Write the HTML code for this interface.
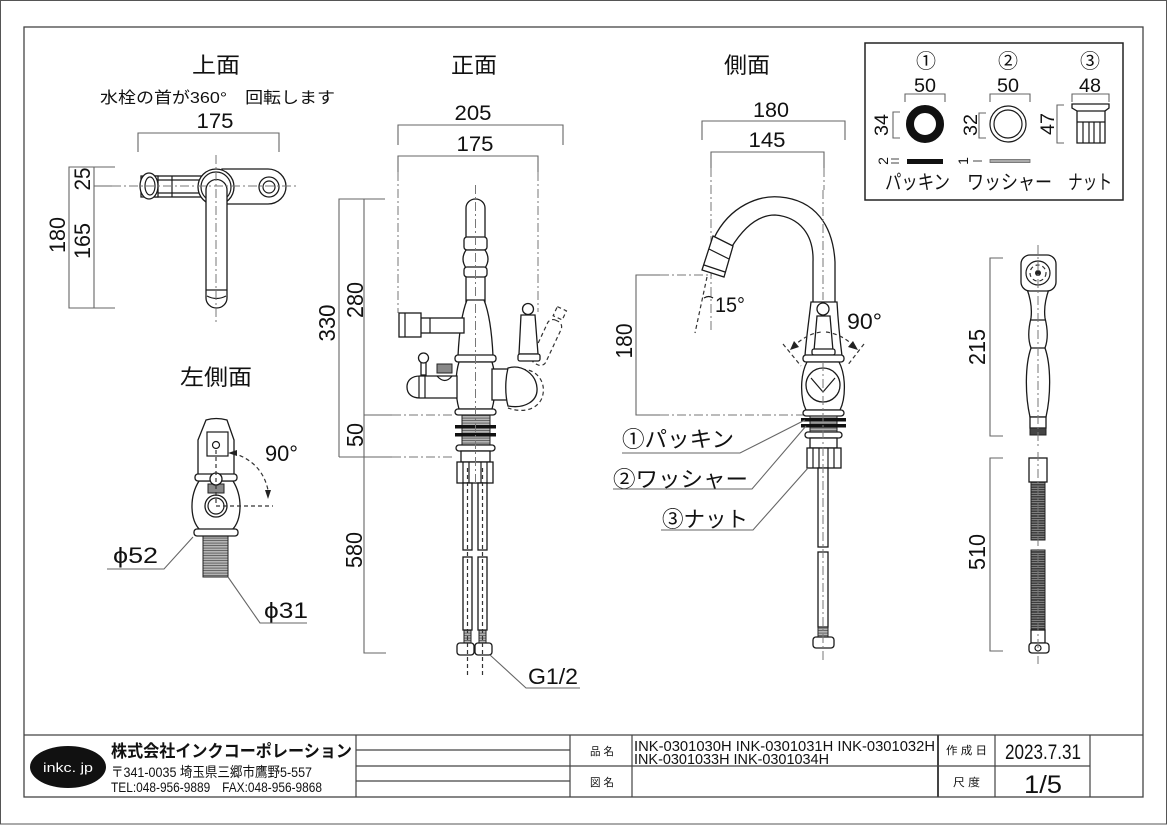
<!DOCTYPE html>
<html><head><meta charset="utf-8">
<style>
html,body{margin:0;padding:0;background:#fff;}
svg{display:block}
text{font-family:"Liberation Sans","Noto Sans CJK JP",sans-serif;fill:#111}
.o{fill:#fff;stroke:#1a1a1a;stroke-width:1.3}
.n{fill:none;stroke:#1a1a1a;stroke-width:1.2}
.d{fill:none;stroke:#666;stroke-width:1.1}
.c{fill:none;stroke:#777;stroke-width:1;stroke-dasharray:9 3 2 3}
.h{fill:none;stroke:#333;stroke-width:1.2;stroke-dasharray:4 3}
.g{fill:none;stroke:#444;stroke-width:1}
</style></head><body>
<svg width="1167" height="825" viewBox="0 0 1167 825" xmlns="http://www.w3.org/2000/svg">
<defs>
<pattern id="thr" width="4" height="2.5" patternUnits="userSpaceOnUse"><rect width="4" height="2.5" fill="#b5b5b5"/><line x1="0" y1="0.6" x2="4" y2="0.6" stroke="#555" stroke-width="0.8"/></pattern>
<pattern id="cor" width="4" height="2.4" patternUnits="userSpaceOnUse"><rect width="4" height="2.4" fill="#3a3a3a"/><line x1="0" y1="1.2" x2="4" y2="1.2" stroke="#bbb" stroke-width="0.6"/></pattern>
</defs>
<rect x="0" y="0" width="1167" height="825" fill="#fff"/>
<rect x="0.5" y="0.5" width="1166" height="823.5" fill="none" stroke="#555" stroke-width="1"/>
<rect x="24" y="27" width="1119" height="770" fill="none" stroke="#444" stroke-width="1.3"/>

<!-- ============ TOP VIEW 上面 ============ -->
<text x="216" y="73" font-size="22" text-anchor="middle" textLength="48" lengthAdjust="spacingAndGlyphs">上面</text>
<text x="100" y="103" font-size="16" textLength="235" lengthAdjust="spacingAndGlyphs">水栓の首が360°　回転します</text>
<text x="215" y="128" font-size="21" text-anchor="middle" textLength="37" lengthAdjust="spacingAndGlyphs">175</text>
<path class="d" d="M138 152V133H279V152"/>
<path class="d" d="M115 167H69V308H115M94 167V308M94 186H112"/>
<text transform="translate(65,235) rotate(-90)" font-size="22" text-anchor="middle" textLength="36" lengthAdjust="spacingAndGlyphs">180</text>
<text transform="translate(90,179) rotate(-90)" font-size="22" text-anchor="middle" textLength="23" lengthAdjust="spacingAndGlyphs">25</text>
<text transform="translate(90,241) rotate(-90)" font-size="22" text-anchor="middle" textLength="36" lengthAdjust="spacingAndGlyphs">165</text>
<rect class="o" x="155" y="176" width="52" height="21"/>
<path class="n" d="M158 180H205M158 193H205M172 176V197"/>
<path class="o" d="M141 176H158V197H141Z"/>
<ellipse class="o" cx="149" cy="186" rx="9" ry="13"/>
<ellipse class="n" cx="150" cy="186" rx="5" ry="9"/>
<path class="o" d="M222 169H268A18 17.5 0 0 1 268 204H222Z"/>
<circle class="o" cx="269" cy="187" r="10"/><circle class="n" cx="269" cy="187" r="6"/>
<circle class="o" cx="216" cy="187" r="18"/><circle class="n" cx="216" cy="187" r="15"/>
<path class="o" d="M206 190V298A10.5 10 0 0 0 227 298V190A10.5 10.5 0 0 0 206 190Z"/>
<path class="n" d="M206 290H227M207 296Q216.5 301 226 296"/>
<path class="c" d="M112 186H296M216 155V322"/>

<!-- ============ LEFT SIDE 左側面 ============ -->
<text x="216" y="385" font-size="22" text-anchor="middle" textLength="72" lengthAdjust="spacingAndGlyphs">左側面</text>
<path class="o" d="M206 420Q216 417 227 420L234 440V475H198V440Z"/>
<rect class="n" x="207" y="432" width="21" height="24"/>
<circle class="n" cx="216" cy="445" r="3.5"/>
<path class="o" d="M199 481C189 497 190 520 200 530H232C242 520 243 497 233 481Z"/>
<rect class="o" x="195" y="474" width="42" height="7" rx="3"/>
<rect x="208" y="484" width="16" height="9" fill="#888" stroke="#222"/>
<circle class="o" cx="216" cy="479" r="6"/>
<circle class="o" cx="216" cy="506" r="11"/><circle class="n" cx="216" cy="506" r="8"/>
<rect x="203" y="535" width="25" height="42" fill="url(#thr)" stroke="#222"/>
<rect class="o" x="194" y="529" width="44" height="7" rx="3"/>
<path class="h" d="M216 450V506H273"/>
<path class="h" d="M233 453Q262 462 268 490"/>
<polygon points="228,453 237,450 237,456" fill="#222"/>
<polygon points="268,499 265,490 271,490" fill="#222"/>
<text x="265" y="461" font-size="22" textLength="33" lengthAdjust="spacingAndGlyphs">90°</text>
<path class="d" d="M193 537L164 569H107"/>
<path class="d" d="M228 577L260 623H307"/>
<text x="113" y="563" font-size="22" textLength="45" lengthAdjust="spacingAndGlyphs">ϕ52</text>
<text x="264" y="618" font-size="22" textLength="44" lengthAdjust="spacingAndGlyphs">ϕ31</text>

<!-- ============ FRONT 正面 ============ -->
<text x="474" y="73" font-size="22" text-anchor="middle" textLength="46" lengthAdjust="spacingAndGlyphs">正面</text>
<text x="473" y="120" font-size="21" text-anchor="middle" textLength="37" lengthAdjust="spacingAndGlyphs">205</text>
<text x="475" y="151" font-size="21" text-anchor="middle" textLength="37" lengthAdjust="spacingAndGlyphs">175</text>
<path class="d" d="M398 145V125H563V145"/>
<path class="d" d="M398 172V156H538V172"/>
<path class="c" d="M398 172V313M538 172V312"/>
<path class="d" d="M385 199H339V457M364 199V653H386M364 415H392M339 457H392"/>
<path class="c" d="M392 415H455M392 457H455"/>
<text transform="translate(335,323) rotate(-90)" font-size="23" text-anchor="middle" textLength="37" lengthAdjust="spacingAndGlyphs">330</text>
<text transform="translate(363,300) rotate(-90)" font-size="23" text-anchor="middle" textLength="36" lengthAdjust="spacingAndGlyphs">280</text>
<text transform="translate(363,435) rotate(-90)" font-size="23" text-anchor="middle" textLength="24" lengthAdjust="spacingAndGlyphs">50</text>
<text transform="translate(362,550) rotate(-90)" font-size="23" text-anchor="middle" textLength="36" lengthAdjust="spacingAndGlyphs">580</text>
<!-- spout -->
<path class="o" d="M466 302V208A9.5 9 0 0 1 485 208V302Z"/>
<rect class="o" x="464" y="237" width="23" height="13" rx="3"/>
<path class="o" d="M466 250C462 256 462 262 466 268H485C489 262 489 256 485 250Z"/>
<rect class="o" x="464" y="267" width="23" height="10" rx="3"/>
<path class="o" d="M467 300H484C490 315 492 335 493 356H458C459 335 461 315 467 300Z"/>
<!-- shower arm -->
<rect class="o" x="420" y="318" width="44" height="15"/>
<path class="n" d="M430 318V333"/>
<rect class="o" x="399" y="313" width="22" height="24"/>
<path class="n" d="M405 313V337"/>
<rect class="o" x="455" y="355" width="41" height="7" rx="3"/>
<path class="o" d="M459 362C455 375 455 395 459 409H492C496 395 496 375 492 362Z"/>
<!-- left valve -->
<path class="o" d="M457 376H420C412 376 407 380 407 387C407 394 412 398 420 398H457Z"/>
<path class="n" d="M419 376V398M425 376V398"/>
<path class="n" d="M437 376Q445 385 452 376"/>
<rect class="o" x="421" y="362" width="5" height="13"/>
<circle class="o" cx="423.5" cy="358" r="5"/>
<rect x="437" y="364" width="15" height="9" fill="#888" stroke="#222"/>
<!-- right handle -->
<rect class="o" x="492" y="369" width="18" height="31"/>
<path class="h" d="M515 371C536 364 549 384 541 400C534 412 519 412 508 408"/>
<g transform="rotate(25 545 345)"><rect class="h" x="538" y="318" width="15" height="48" rx="6"/><rect class="h" x="540" y="305" width="10" height="10"/></g>
<path class="o" d="M508 368C522 364 536 374 537 388C538 401 525 409 508 406C505 395 505 380 508 368Z"/>
<path class="o" d="M521 315H535L538 354H519Z"/>
<rect class="o" x="518" y="354" width="22" height="7" rx="2"/>
<circle class="o" cx="528" cy="309" r="5.5"/>
<!-- base -->
<rect class="o" x="455" y="409" width="41" height="6" rx="3"/>
<rect x="462" y="415" width="28" height="31" fill="url(#thr)" stroke="#222"/>
<rect x="455" y="425" width="41" height="3.5" fill="#111"/>
<rect x="455" y="433" width="41" height="3.5" fill="#111"/>
<rect class="o" x="456" y="445" width="39" height="6" rx="3"/>
<rect class="o" x="461" y="451" width="29" height="11"/>
<rect class="o" x="457" y="462" width="36" height="21"/>
<path class="n" d="M463 462V483M469 462V483M481 462V483M487 462V483"/>
<!-- hoses -->
<rect class="o" x="463" y="483" width="9" height="67"/>
<rect class="o" x="478" y="483" width="9" height="67"/>
<rect class="o" x="463" y="557" width="9" height="73"/>
<rect class="o" x="478" y="557" width="9" height="73"/>
<rect x="464" y="630" width="7" height="13" fill="url(#thr)" stroke="#222"/>
<rect x="479" y="630" width="7" height="13" fill="url(#thr)" stroke="#222"/>
<rect class="o" x="457" y="643" width="17" height="12" rx="3"/>
<rect class="o" x="475" y="643" width="17" height="12" rx="3"/>
<path class="c" d="M475.5 185V483"/>
<path class="h" d="M467.5 468V678M482.5 468V678" stroke="#777" stroke-width="1"/>
<path class="d" d="M490 655L526 688H580"/>
<text x="528" y="684" font-size="22" textLength="50" lengthAdjust="spacingAndGlyphs">G1/2</text>

<!-- ============ SIDE 側面 ============ -->
<text x="747" y="73" font-size="22" text-anchor="middle" textLength="46" lengthAdjust="spacingAndGlyphs">側面</text>
<text x="771" y="117" font-size="21" text-anchor="middle" textLength="36" lengthAdjust="spacingAndGlyphs">180</text>
<text x="767" y="147" font-size="21" text-anchor="middle" textLength="37" lengthAdjust="spacingAndGlyphs">145</text>
<path class="d" d="M702 140V121H845V140"/>
<path class="d" d="M711 168V152H824V168"/>
<path class="c" d="M711 168V330M824 168V190"/>
<path class="d" d="M660 275H636V415H660"/>
<path class="c" d="M660 275H712M660 415H805"/>
<text transform="translate(632,341) rotate(-90)" font-size="23" text-anchor="middle" textLength="35" lengthAdjust="spacingAndGlyphs">180</text>
<!-- gooseneck -->
<path class="o" d="M714 238C730 205 760 195 780 197C815 200 833 225 835 262L835 304L813 304L813 262C814 235 800 217 775 215C760 215 745 225 731 248Z"/>
<polygon class="o" points="713,236 733,246 724,277 702,270"/>
<path class="n" d="M709 249L729 259M704 265L725 272"/>
<path class="h" d="M707 277L695 333" stroke="#666" stroke-width="1"/>
<path class="n" d="M704 298Q709 295 713 298" stroke-width="1"/>
<text x="715" y="312" font-size="21" textLength="30" lengthAdjust="spacingAndGlyphs">15°</text>
<!-- body -->
<path class="o" d="M811 302H837C838 320 840 340 842 356H805C806 340 809 320 811 302Z"/>
<path class="o" d="M817 316H830L833 351H814Z"/>
<rect class="o" x="812" y="349" width="23" height="6" rx="2"/>
<circle class="o" cx="823" cy="309" r="6"/>
<rect class="o" x="803" y="355" width="41" height="7" rx="3"/>
<path class="o" d="M807 362C800 375 800 398 806 410H840C846 398 846 375 839 362Z"/>
<circle class="o" cx="823" cy="385" r="17"/>
<path class="n" d="M811 378L823 392L835 378"/>
<rect class="o" x="803" y="410" width="41" height="6" rx="3"/>
<rect x="810" y="416" width="27" height="17" fill="url(#thr)" stroke="#222"/>
<rect x="801" y="418" width="45" height="3.5" fill="#111"/>
<rect x="801" y="424" width="45" height="3.5" fill="#111"/>
<rect class="o" x="805" y="432" width="37" height="6" rx="3"/>
<rect class="o" x="810" y="438" width="27" height="10"/>
<rect class="o" x="807" y="448" width="34" height="20"/>
<path class="n" d="M813 448V468M819 448V468M828 448V468M834 448V468"/>
<rect class="o" x="818" y="468" width="10" height="79"/>
<rect class="o" x="818" y="552" width="10" height="75"/>
<rect x="818" y="627" width="10" height="11" fill="url(#thr)" stroke="#222"/>
<rect class="o" x="813" y="637" width="21" height="11" rx="3"/>
<path class="c" d="M823 190V300M823 362V660"/>
<!-- 90 deg -->
<path class="h" d="M783 344L801 366M864 344L847 366"/>
<path class="h" d="M793 347Q806 334 821 332M826 332Q842 334 855 347"/>
<polygon points="790,350 794,341 799,347" fill="#222"/>
<polygon points="858,350 848,347 853,341" fill="#222"/>
<text x="847" y="329" font-size="22" textLength="35" lengthAdjust="spacingAndGlyphs">90°</text>
<!-- labels -->
<text x="622" y="447" font-size="22" textLength="112" lengthAdjust="spacingAndGlyphs">①パッキン</text>
<text x="613" y="487" font-size="22" textLength="135" lengthAdjust="spacingAndGlyphs">②ワッシャー</text>
<text x="662" y="527" font-size="22" textLength="86" lengthAdjust="spacingAndGlyphs">③ナット</text>
<path class="d" d="M622 453H740L805 420"/>
<path class="d" d="M613 489H752L806 426"/>
<path class="d" d="M661 530H753L808 468"/>

<!-- ============ PARTS BOX ============ -->
<rect x="865" y="43" width="258" height="157" fill="none" stroke="#222" stroke-width="1.5"/>
<text x="926" y="68" font-size="20" text-anchor="middle">①</text>
<text x="1008" y="68" font-size="20" text-anchor="middle">②</text>
<text x="1090" y="68" font-size="20" text-anchor="middle">③</text>
<text x="925" y="92" font-size="19" text-anchor="middle" textLength="22" lengthAdjust="spacingAndGlyphs">50</text>
<text x="1008" y="92" font-size="19" text-anchor="middle" textLength="22" lengthAdjust="spacingAndGlyphs">50</text>
<text x="1090" y="92" font-size="19" text-anchor="middle" textLength="22" lengthAdjust="spacingAndGlyphs">48</text>
<path class="d" d="M905 102V94H945V102M990 102V94H1030V102M1072 102V94H1109V102"/>
<path class="d" d="M900 112H893V138H900M986 113H979V138H986M1064 105H1057V143H1064"/>
<text transform="translate(888,125) rotate(-90)" font-size="19" text-anchor="middle" textLength="22" lengthAdjust="spacingAndGlyphs">34</text>
<text transform="translate(977,125) rotate(-90)" font-size="19" text-anchor="middle" textLength="22" lengthAdjust="spacingAndGlyphs">32</text>
<text transform="translate(1054,124) rotate(-90)" font-size="19" text-anchor="middle" textLength="22" lengthAdjust="spacingAndGlyphs">47</text>
<circle cx="925" cy="124" r="15" fill="none" stroke="#111" stroke-width="8"/>
<circle class="n" cx="1008" cy="124" r="18"/><circle class="n" cx="1008" cy="124" r="14"/>
<path class="o" d="M1072 104H1109V108L1105 111V143H1077V111L1072 108Z"/>
<path class="n" d="M1077 111H1105M1077 122H1105M1083 122V143M1089 122V143M1094 122V143M1100 122V143"/>
<text transform="translate(888,161) rotate(-90)" font-size="14" text-anchor="middle">2</text>
<path class="g" d="M891 159H899M891 163H899"/>
<rect x="907" y="159" width="36" height="5" fill="#111"/>
<text transform="translate(968,161) rotate(-90)" font-size="14" text-anchor="middle">1</text>
<path class="g" d="M973 161H982"/>
<rect x="990" y="159.5" width="40" height="3" fill="#aaa" stroke="#666" stroke-width="0.8"/>
<text x="885" y="189" font-size="20" textLength="65" lengthAdjust="spacingAndGlyphs">パッキン</text>
<text x="967" y="189" font-size="20" textLength="85" lengthAdjust="spacingAndGlyphs">ワッシャー</text>
<text x="1068" y="189" font-size="20" textLength="44" lengthAdjust="spacingAndGlyphs">ナット</text>

<!-- ============ HAND SHOWER ============ -->
<path class="d" d="M1003 258H990V436H1003"/>
<text transform="translate(985,347) rotate(-90)" font-size="23" text-anchor="middle" textLength="36" lengthAdjust="spacingAndGlyphs">215</text>
<path class="o" d="M1027 289C1031 300 1032 310 1031 318C1028 330 1028 340 1031 348C1025 365 1025 395 1030 417H1046C1051 395 1051 365 1045 348C1048 340 1048 330 1045 318C1044 310 1045 300 1049 289Z"/>
<path class="n" d="M1031 320H1045M1031 348H1045"/>
<rect class="o" x="1021" y="255" width="35" height="36" rx="9"/>
<circle class="n" cx="1038" cy="273" r="12"/>
<circle class="h" cx="1038" cy="273" r="8" stroke-width="1"/>
<circle cx="1038" cy="273" r="3" fill="#222"/>
<rect class="o" x="1030" y="417" width="16" height="11"/>
<rect x="1030" y="428" width="16" height="7" fill="#444" stroke="#222"/>
<path class="c" d="M1038 245V448"/>
<path class="d" d="M1003 458H990V651H1003"/>
<text transform="translate(985,552) rotate(-90)" font-size="23" text-anchor="middle" textLength="36" lengthAdjust="spacingAndGlyphs">510</text>
<rect class="o" x="1029" y="458" width="18" height="24"/>
<rect x="1031" y="482" width="14" height="58" fill="url(#cor)" stroke="#222"/>
<rect x="1031" y="550" width="14" height="80" fill="url(#cor)" stroke="#222"/>
<rect class="o" x="1031" y="630" width="14" height="13"/>
<rect class="o" x="1029" y="643" width="20" height="10" rx="3"/>
<circle class="n" cx="1038" cy="648" r="3"/>
<path class="c" d="M1038 452V664"/>

<!-- ============ TITLE BLOCK ============ -->
<g stroke="#444" stroke-width="1.2" fill="none">
<path d="M24 735H1143"/>
<path d="M356 735V797M570 735V797M632 735V797M995 735V797M1090 735V797"/>
<path d="M938 735V797" stroke-width="2"/>
<path d="M356 750H570M356 766H1090M356 781H570"/>
</g>
<ellipse cx="68" cy="767" rx="38" ry="21" fill="#111"/>
<text x="68" y="772" font-size="13" text-anchor="middle" style="fill:#fff" textLength="50" lengthAdjust="spacingAndGlyphs">inkc. jp</text>
<text x="111" y="757" font-size="17" font-weight="bold" textLength="241" lengthAdjust="spacingAndGlyphs">株式会社インクコーポレーション</text>
<text x="111" y="777" font-size="14" textLength="201" lengthAdjust="spacingAndGlyphs">〒341-0035 埼玉県三郷市鷹野5-557</text>
<text x="111" y="792" font-size="14" textLength="211" lengthAdjust="spacingAndGlyphs">TEL:048-956-9889　FAX:048-956-9868</text>
<text x="590" y="755" font-size="11" textLength="24" lengthAdjust="spacingAndGlyphs">品 名</text>
<text x="590" y="786" font-size="11" textLength="24" lengthAdjust="spacingAndGlyphs">図 名</text>
<text x="634" y="751" font-size="15" textLength="301" lengthAdjust="spacingAndGlyphs">INK-0301030H  INK-0301031H  INK-0301032H</text>
<text x="634" y="764" font-size="15" textLength="195" lengthAdjust="spacingAndGlyphs">INK-0301033H  INK-0301034H</text>
<text x="946" y="754" font-size="11" textLength="41" lengthAdjust="spacingAndGlyphs">作 成 日</text>
<text x="953" y="786" font-size="11" textLength="27" lengthAdjust="spacingAndGlyphs">尺 度</text>
<text x="1005" y="759" font-size="21" textLength="76" lengthAdjust="spacingAndGlyphs">2023.7.31</text>
<text x="1024" y="793" font-size="25" textLength="38" lengthAdjust="spacingAndGlyphs">1/5</text>
</svg>
</body></html>
